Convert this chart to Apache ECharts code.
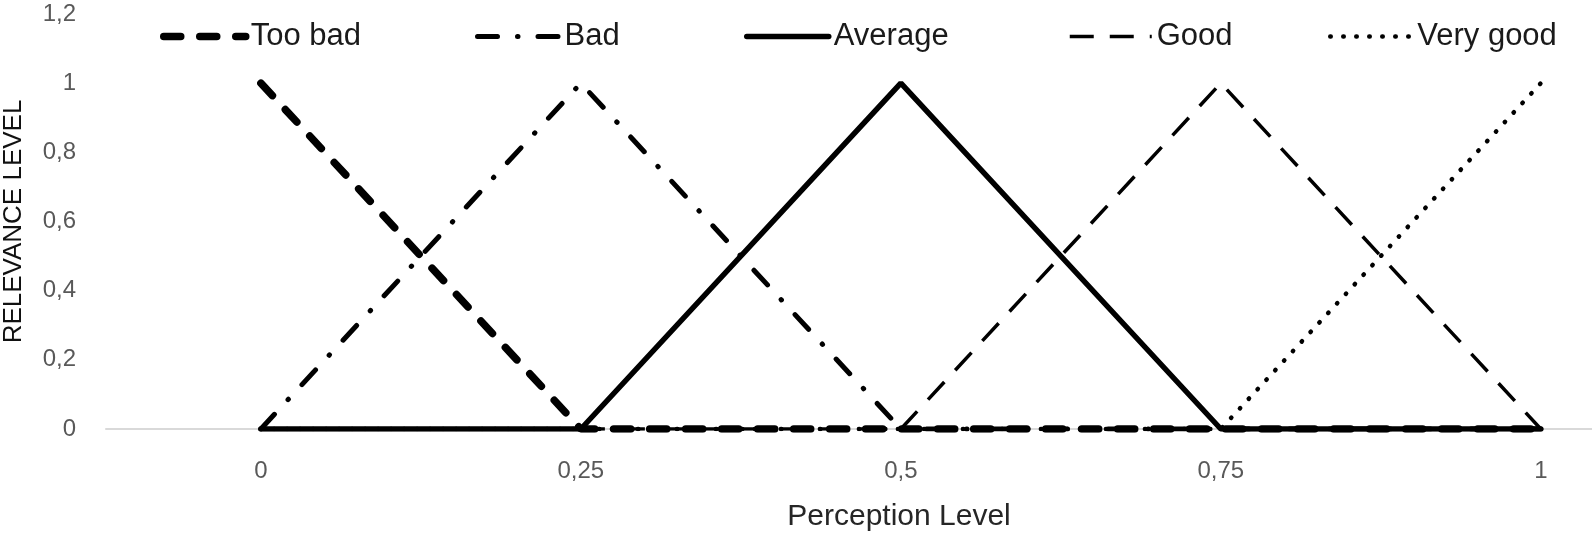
<!DOCTYPE html>
<html>
<head>
<meta charset="utf-8">
<script src="https://cdn.jsdelivr.net/npm/echarts@6/dist/echarts.min.js"></script>
<style>html,body{margin:0;padding:0;background:#fff}#c{width:1592px;height:534px}</style>
</head>
<body>
<div id="c"></div>
<script>
const xValues = [0, 0.25, 0.5, 0.75, 1];
const xTickLabels = [0, 0.25, 0.5, 0.75, 1];
const seriesNames = ['Too bad', 'Bad', 'Average', 'Good', 'Very good'];
const tooBad = [1, 0, 0, 0, 0];
const bad = [0, 1, 0, 0, 0];
const average = [0, 0, 1, 0, 0];
const good = [0, 0, 0, 1, 0];
const veryGood = [0, 0, 0, 0, 1];

const valueSets = [tooBad, bad, average, good, veryGood];
const styles = [
  {width: 7.5, type: [17, 19], cap: 'round'},
  {width: 5, type: [20, 20, 0.5, 20], cap: 'round'},
  {width: 5.5, type: 'solid', cap: 'round'},
  {width: 3.5, type: [24, 16], cap: 'butt'},
  {width: 4.5, type: [0.5, 12.5], cap: 'round'}
];
const zs = [2, 3, 6, 4, 5];
const legendLeft = [160, 475, 744, 1068, 1328];
const fmt = v => String(v).replace('.', ',');
const FONT = 'Liberation Sans';

const chart = echarts.init(document.getElementById('c'));
chart.setOption({
  animation: false,
  grid: {left: 106, right: 0, top: 14, bottom: 105, containLabel: false, outerBoundsMode: 'none'},
  legend: seriesNames.map((n, i) => ({
    data: [n], left: legendLeft[i], top: 21, padding: 0,
    itemWidth: 82, itemHeight: 14, itemGap: 0,
    itemStyle: {opacity: 0},
    lineStyle: Object.assign({color: '#000'}, styles[i]),
    textStyle: {fontSize: 31, color: '#1a1a1a', fontFamily: FONT}
  })),
  xAxis: {
    type: 'value', min: -0.121, max: 1.04,
    axisLine: {show: true, onZero: false, lineStyle: {color: '#d9d9d9', width: 2}},
    axisTick: {show: false},
    splitLine: {show: false},
    axisLabel: {customValues: xTickLabels, formatter: fmt, fontSize: 24, color: '#595959', margin: 30, fontFamily: FONT},
    name: 'Perception Level', nameLocation: 'middle', nameGap: 73,
    nameTextStyle: {fontSize: 30, color: '#262626', fontFamily: FONT, padding: [0, 0, 0, 100]}
  },
  yAxis: {
    type: 'value', min: 0, max: 1.2, interval: 0.2,
    axisLine: {show: false}, axisTick: {show: false}, splitLine: {show: false},
    axisLabel: {formatter: v => fmt(Math.round(v * 10) / 10), fontSize: 24, color: '#595959', margin: 30, fontFamily: FONT},
    name: 'RELEVANCE LEVEL', nameLocation: 'middle', nameRotate: 90, nameGap: 79,
    nameTextStyle: {fontSize: 26, color: '#111', fontFamily: FONT}
  },
  series: seriesNames.map((n, i) => ({
    name: n, type: 'line', symbol: 'none', showSymbol: false, z: zs[i],
    data: xValues.map((x, k) => [x, valueSets[i][k]]),
    lineStyle: Object.assign({color: '#000'}, styles[i]),
    itemStyle: {color: '#000'}
  }))
});
</script>
</body>
</html>
